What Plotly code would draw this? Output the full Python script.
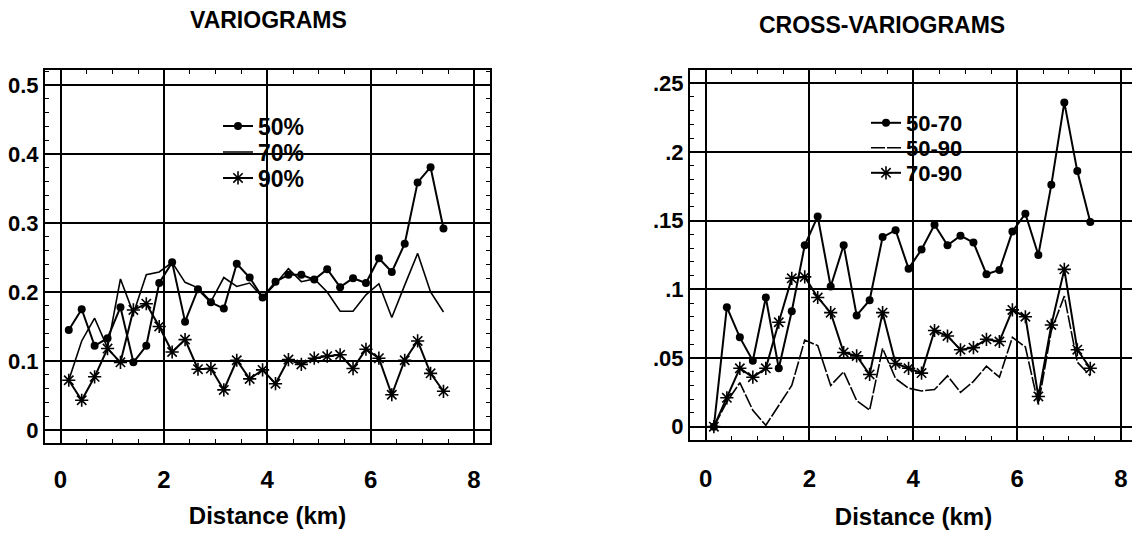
import plotly.graph_objects as go

# ---------------- data ----------------
distance_km = [0.16, 0.41, 0.66, 0.91, 1.16, 1.41, 1.66, 1.91, 2.16, 2.41,
               2.66, 2.91, 3.16, 3.41, 3.66, 3.91, 4.16, 4.41, 4.66, 4.91,
               5.16, 5.41, 5.66, 5.91, 6.16, 6.41, 6.66, 6.91, 7.16, 7.41]

vario_50 = [0.145, 0.175, 0.122, 0.133, 0.178, 0.098, 0.122, 0.213, 0.243, 0.157,
            0.204, 0.185, 0.176, 0.241, 0.221, 0.192, 0.215, 0.225, 0.225, 0.218,
            0.233, 0.207, 0.220, 0.213, 0.249, 0.229, 0.270, 0.359, 0.381, 0.292]
vario_70 = [0.072, 0.129, 0.162, 0.119, 0.219, 0.169, 0.225, 0.229, 0.243, 0.214,
            0.206, 0.186, 0.221, 0.208, 0.213, 0.192, 0.212, 0.234, 0.215, 0.219,
            0.200, 0.172, 0.172, 0.196, 0.212, 0.163, 0.210, 0.256, 0.200, 0.171]
vario_90 = [0.072, 0.043, 0.077, 0.118, 0.098, 0.174, 0.183, 0.150, 0.113, 0.131,
            0.088, 0.089, 0.058, 0.101, 0.074, 0.087, 0.067, 0.102, 0.095, 0.104,
            0.107, 0.109, 0.089, 0.117, 0.104, 0.051, 0.101, 0.129, 0.082, 0.056]

cross_50_70 = [0.000, 0.087, 0.065, 0.048, 0.094, 0.0425, 0.084, 0.132, 0.153, 0.102,
               0.132, 0.081, 0.092, 0.138, 0.143, 0.115, 0.129, 0.147, 0.132, 0.139,
               0.134, 0.111, 0.114, 0.142, 0.155, 0.125, 0.176, 0.236, 0.186, 0.149]
cross_50_90 = [0.000, 0.018, 0.032, 0.012, 0.001, 0.016, 0.030, 0.063, 0.059, 0.030,
               0.040, 0.019, 0.012, 0.057, 0.035, 0.028, 0.026, 0.027, 0.037, 0.025,
               0.033, 0.044, 0.036, 0.065, 0.058, 0.016, 0.070, 0.095, 0.047, 0.037]
cross_70_90 = [0.000, 0.021, 0.0425, 0.036, 0.0425, 0.076, 0.108, 0.109, 0.094, 0.083,
               0.054, 0.0515, 0.038, 0.083, 0.046, 0.0425, 0.039, 0.070, 0.066, 0.056,
               0.0575, 0.0636, 0.062, 0.085, 0.080, 0.022, 0.074, 0.1145, 0.056, 0.0425]

x_ticks = [0, 2, 4, 6, 8]
left_y_ticks = [0, 0.1, 0.2, 0.3, 0.4, 0.5]
left_y_labels = ["0", "0.1", "0.2", "0.3", "0.4", "0.5"]
right_y_ticks = [0, 0.05, 0.1, 0.15, 0.2, 0.25]
right_y_labels = ["0", ".05", ".1", ".15", ".2", ".25"]

# ---------------- figure ----------------
OFF = 8                      # page body margin of the written html
W, H = 1140 - OFF, 534 - OFF
FAMILY = "Liberation Sans, Arial, sans-serif"
BLACK = "#000000"

fig = go.Figure()

circle = dict(symbol="circle", size=8, color=BLACK)
star = dict(symbol="asterisk-open", size=11, color=BLACK, line=dict(color=BLACK, width=1.6))

fig.add_trace(go.Scatter(x=distance_km, y=vario_50, name="50%", mode="lines+markers",
                         marker=circle, line=dict(color=BLACK, width=2),
                         xaxis="x", yaxis="y", legend="legend"))
fig.add_trace(go.Scatter(x=distance_km, y=vario_70, name="70%", mode="lines",
                         line=dict(color=BLACK, width=1.6),
                         xaxis="x", yaxis="y", legend="legend2"))
fig.add_trace(go.Scatter(x=distance_km, y=vario_90, name="90%", mode="lines+markers",
                         marker=star, line=dict(color=BLACK, width=2),
                         xaxis="x", yaxis="y", legend="legend3"))

fig.add_trace(go.Scatter(x=distance_km, y=cross_50_70, name="50-70", mode="lines+markers",
                         marker=circle, line=dict(color=BLACK, width=2),
                         xaxis="x2", yaxis="y2", legend="legend4"))
fig.add_trace(go.Scatter(x=distance_km, y=cross_50_90, name="50-90", mode="lines",
                         line=dict(color=BLACK, width=1.6, dash="14px,2px"),
                         xaxis="x2", yaxis="y2", legend="legend5"))
fig.add_trace(go.Scatter(x=distance_km, y=cross_70_90, name="70-90", mode="lines+markers",
                         marker=star, line=dict(color=BLACK, width=2),
                         xaxis="x2", yaxis="y2", legend="legend6"))


def px_x(p):
    return (p - OFF) / W


def px_y(p):
    return 1 - (p - OFF) / H


tick_font = dict(family=FAMILY, size=24, color=BLACK, weight="bold")
ytick_font = dict(family=FAMILY, size=22, color=BLACK, weight="bold")


def xaxis_cfg(left, right, anchor, label_gap, title_gap):
    return dict(
        domain=[px_x(left), px_x(right)], range=[-0.3, 8.31], anchor=anchor,
        tickvals=x_ticks, ticktext=[str(t) for t in x_ticks],
        showgrid=True, gridcolor=BLACK, gridwidth=1.6, zeroline=False,
        showline=True, linecolor=BLACK, linewidth=2, mirror="ticks",
        ticks="", ticklabelstandoff=label_gap, tickfont=tick_font,
        minor=dict(ticks="inside", dtick=0.5, tick0=0, ticklen=4,
                   tickcolor=BLACK, tickwidth=1, showgrid=False),
        title=dict(text="Distance (km)", standoff=title_gap,
                   font=dict(family=FAMILY, size=24, color=BLACK, weight="bold")),
        fixedrange=True,
    )


def yaxis_cfg(top, bottom, rng, tv, tt, mdt, anchor):
    return dict(
        domain=[px_y(bottom), px_y(top)], range=rng,
        tickvals=tv, ticktext=tt, anchor=anchor,
        showgrid=True, gridcolor=BLACK, gridwidth=1.6, zeroline=False,
        showline=True, linecolor=BLACK, linewidth=2, mirror="ticks",
        ticks="", ticklabelstandoff=0, tickfont=ytick_font,
        minor=dict(ticks="inside", dtick=mdt, tick0=0, ticklen=4,
                   tickcolor=BLACK, tickwidth=1, showgrid=False),
        fixedrange=True,
    )


xa = xaxis_cfg(45, 490, "y", 14, 15)
xa2 = xaxis_cfg(690, 1137, "y2", 16, 17)
ya = yaxis_cfg(70, 443, [-0.019, 0.522], left_y_ticks, left_y_labels, 0.02, "x")
ya2 = yaxis_cfg(70, 440, [-0.0097, 0.2596], right_y_ticks, right_y_labels, 0.01, "x2")


def leg(xp, yp, size):
    return dict(x=px_x(xp), y=px_y(yp), xanchor="left", yanchor="middle",
                bgcolor="rgba(0,0,0,0)", borderwidth=0,
                font=dict(family=FAMILY, size=size, color=BLACK, weight="bold"),
                itemwidth=30, itemclick=False, itemdoubleclick=False)


title_font = dict(family=FAMILY, size=23, color=BLACK, weight="bold")

fig.update_layout(
    width=W, height=H,
    margin=dict(l=0, r=0, t=0, b=0),
    paper_bgcolor="white", plot_bgcolor="white",
    font=dict(family=FAMILY, color=BLACK),
    showlegend=True,
    xaxis=xa, yaxis=ya, xaxis2=xa2, yaxis2=ya2,
    legend=leg(218, 126, 23), legend2=leg(218, 152, 23), legend3=leg(218, 178, 23),
    legend4=leg(866, 123, 22), legend5=leg(866, 148, 22), legend6=leg(866, 173, 22),
    annotations=[
        dict(text="VARIOGRAMS", x=px_x(268), y=px_y(20), xref="paper", yref="paper",
             xanchor="center", yanchor="middle", showarrow=False, font=title_font),
        dict(text="CROSS-VARIOGRAMS", x=px_x(882), y=px_y(25), xref="paper", yref="paper",
             xanchor="center", yanchor="middle", showarrow=False, font=title_font),
    ],
)

fig.write_html("out.html")
